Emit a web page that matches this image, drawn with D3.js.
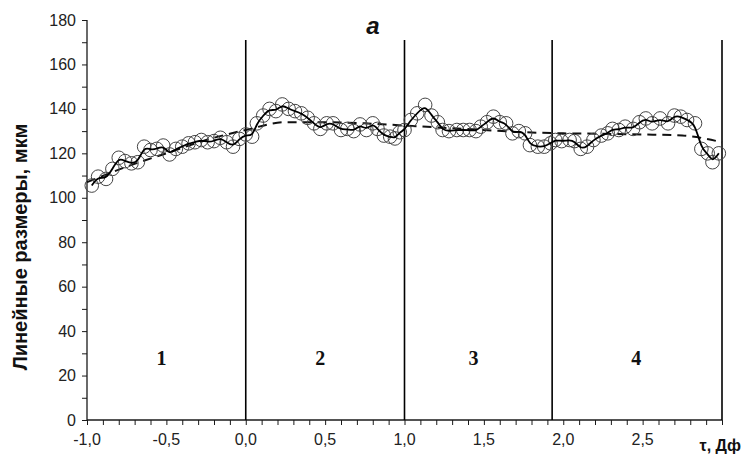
<!DOCTYPE html>
<html><head><meta charset="utf-8">
<script src="https://cdn.jsdelivr.net/npm/d3@7"></script>
<style>body{margin:0;background:#fff}svg{display:block}</style>
</head><body>
<svg id="c" width="749" height="461"></svg>
<script>
const tau = [-0.97,-0.93,-0.88,-0.84,-0.80,-0.76,-0.72,-0.68,-0.64,-0.60,-0.56,-0.52,-0.48,-0.44,-0.40,-0.36,-0.32,-0.28,-0.24,-0.20,-0.16,-0.12,-0.08,-0.04,0.00,
  0.04,0.07,0.11,0.15,0.19,0.23,0.27,0.31,0.35,0.39,0.43,0.47,0.51,0.55,0.60,0.64,0.68,0.72,0.76,0.80,0.83,0.87,0.91,0.94,0.97,
  1.00,1.04,1.08,1.13,1.17,1.21,1.24,1.28,1.33,1.37,1.41,1.45,1.48,1.52,1.56,1.60,1.64,1.68,1.72,1.76,1.79,1.84,1.88,1.92,
  1.95,1.99,2.04,2.07,2.11,2.15,2.19,2.24,2.28,2.31,2.35,2.39,2.44,2.48,2.52,2.56,2.61,2.66,2.70,2.74,2.78,2.83,2.87,2.91,2.94,2.98];
const size = [105.5,109.5,108.5,113,118,116.5,115.5,116,123,121.5,122,123.5,119.5,122,123,124.5,125,126,125,125.5,127,125,123,126.5,128.5,
  127.5,133.5,137,140,139,142,140,139,138,136,133.5,131,133.5,133.5,130.5,131,130,133,130.5,133.5,131,128,127.5,126.7,129.5,
  130.5,135,138,141.8,137,134,130.5,130,130.5,130.5,130.5,130,132,134,136.5,134,133.5,129,130,129,123.7,123,123,124.5,
  126,125.5,126,125.5,122,123,126,128,129,131,130.5,132,131,134,135.7,133.5,135.7,133.5,137,136.5,135,133.5,122,120,116,120];
const trendTau = [-1.0,-0.75,-0.5,-0.25,0.0,0.25,0.5,0.75,1.0,1.25,1.5,1.75,2.0,2.25,2.5,2.75,3.0];
const trendSize = [107,114,120,126,130.5,134,134,133.5,132.5,131.5,130.5,129.5,129,128.8,128.5,128,125];
const stageBounds = [0.0,1.0,1.93,3.0];
const stageLabels = ["1","2","3","4"];
const stageLabelTau = [-0.53,0.47,1.435,2.46];
const xTickLabels = ["-1,0","-0,5","0,0","0,5","1,0","1,5","2,0","2,5"];
const xTickValues = [-1,-0.5,0,0.5,1,1.5,2,2.5];
const yTickValues = [0,20,40,60,80,100,120,140,160,180];

const svg = d3.select("#c");
const x = d3.scaleLinear().domain([-1,3]).range([87,722]);
const y = d3.scaleLinear().domain([0,180]).range([420,20]);
const ink = "#1a1a1a";

// y axis
const yMinor = d3.range(0,181,10);
svg.append("g").attr("transform","translate(87,0)")
  .call(d3.axisLeft(y).tickValues(yMinor).tickSize(5).tickFormat(""))
  .call(g=>g.select(".domain").attr("stroke",ink).attr("stroke-width",1.3).attr("d","M0,"+y(180)+"V"+y(0)))
  .call(g=>g.selectAll(".tick line").attr("stroke",ink));
svg.append("g").selectAll("text").data(yTickValues).join("text")
  .attr("x",76).attr("y",d=>y(d)).attr("dy","0.35em").attr("text-anchor","end")
  .attr("font-family","Liberation Sans, Arial, sans-serif").attr("font-size",16).attr("fill","#222")
  .text(d=>d);

// x axis
const xMinor = d3.range(-10,31).map(d=>d/10);
svg.append("g").attr("transform","translate(0,420)")
  .call(d3.axisBottom(x).tickValues(xMinor).tickSize(5).tickFormat(""))
  .call(g=>g.select(".domain").attr("stroke",ink).attr("stroke-width",1.3).attr("d","M"+x(-1)+",0H"+x(3)))
  .call(g=>g.selectAll(".tick line").attr("stroke",ink));
svg.append("g").selectAll("text").data(xTickValues).join("text")
  .attr("x",d=>x(d)).attr("y",445).attr("text-anchor","middle")
  .attr("font-family","Liberation Sans, Arial, sans-serif").attr("font-size",16).attr("fill","#222")
  .text((d,i)=>xTickLabels[i]);
svg.append("text").attr("x",741).attr("y",451).attr("text-anchor","end")
  .attr("font-family","Liberation Sans, Arial, sans-serif").attr("font-weight","bold").attr("font-size",16).attr("fill","#111")
  .text("τ, Дф");

// y title
svg.append("text").attr("transform","translate(27,247) rotate(-90)").attr("text-anchor","middle")
  .attr("font-family","Liberation Sans, Arial, sans-serif").attr("font-weight","bold").attr("font-size",20).attr("fill","#111")
  .text("Линейные размеры, мкм");

// title
svg.append("text").attr("x",373).attr("y",34).attr("text-anchor","middle")
  .attr("font-family","Liberation Sans, Arial, sans-serif").attr("font-weight","bold").attr("font-style","italic").attr("font-size",24).attr("fill","#111")
  .text("a");

// stage boundaries
svg.append("g").selectAll("line").data(stageBounds).join("line")
  .attr("x1",d=>x(d)).attr("x2",d=>x(d)).attr("y1",y(171)).attr("y2",y(0))
  .attr("stroke","#000").attr("stroke-width",1.6);
svg.append("g").selectAll("text").data(stageLabels).join("text")
  .attr("x",(d,i)=>x(stageLabelTau[i])).attr("y",y(28)).attr("dy","0.35em").attr("text-anchor","middle")
  .attr("font-family","Liberation Serif, Times New Roman, serif").attr("font-weight","bold").attr("font-size",20).attr("fill","#111")
  .text(d=>d);

// trend dashed
const pts = tau.map((t,i)=>[t,size[i]]);
const tr = trendTau.map((t,i)=>[t,trendSize[i]]);
svg.append("path").datum(tr)
  .attr("d",d3.line().x(d=>x(d[0])).y(d=>y(d[1])).curve(d3.curveMonotoneX))
  .attr("fill","none").attr("stroke","#111").attr("stroke-width",2).attr("stroke-dasharray","9,6");

// circles
svg.append("g").selectAll("circle").data(pts).join("circle")
  .attr("cx",d=>x(d[0])).attr("cy",d=>y(d[1])).attr("r",6.8)
  .attr("fill","none").attr("stroke","#444").attr("stroke-width",1);

// data line
svg.append("path").datum(pts)
  .attr("d",d3.line().x(d=>x(d[0])).y(d=>y(d[1])).curve(d3.curveBasis))
  .attr("fill","none").attr("stroke","#000").attr("stroke-width",1.8);
</script>
</body></html>
